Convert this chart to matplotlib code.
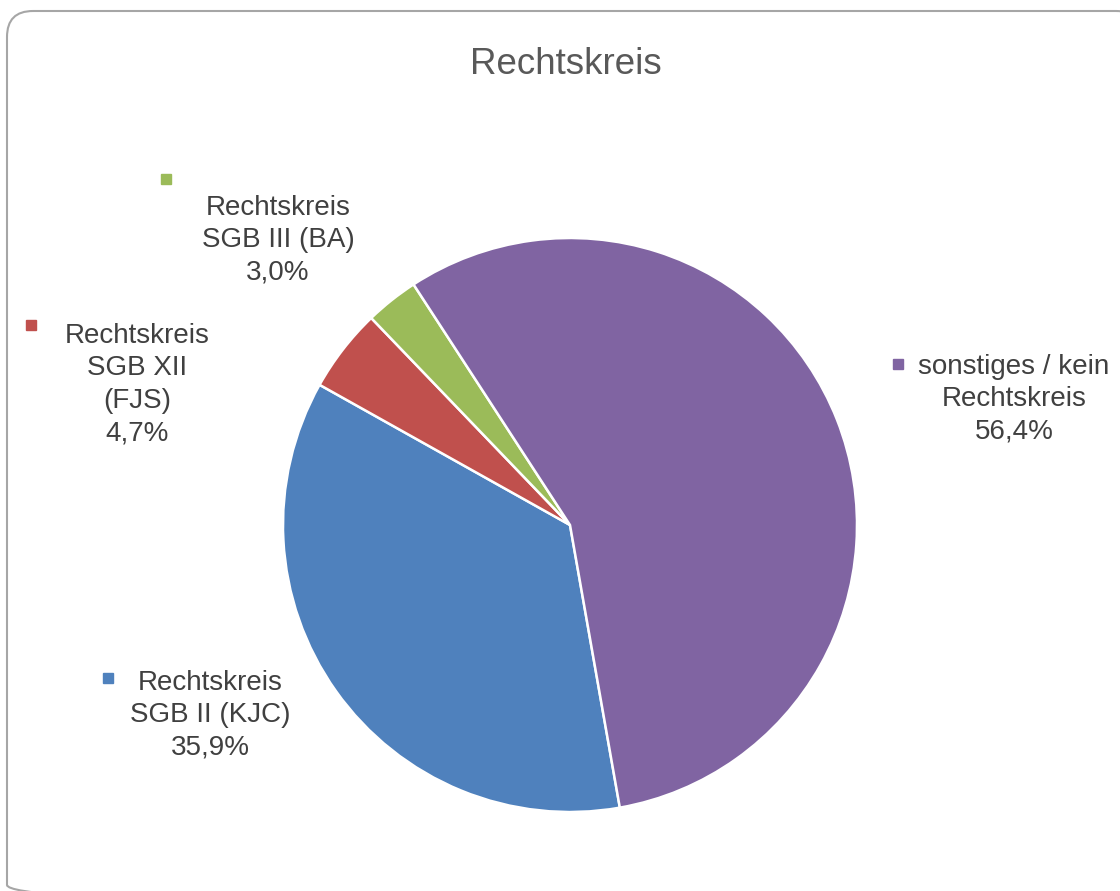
import matplotlib.pyplot as plt
from matplotlib.patches import FancyBboxPatch

plt.rcParams['font.family'] = ['Liberation Sans', 'DejaVu Sans']

# Daten
kategorien = ['Rechtskreis\nSGB II (KJC)', 'Rechtskreis\nSGB XII\n(FJS)',
              'Rechtskreis\nSGB III (BA)', 'sonstiges / kein\nRechtskreis']
anteile = [35.9, 4.7, 3.0, 56.4]
farben = ['#4F81BD', '#C0504D', '#9BBB59', '#8064A2']

# Label-Positionen in Pixeln (x, y von oben): Textmitte der ersten Zeile, Marker
text_pos = [(210, 680), (137, 333), (278, 205), (1014, 364)]
marker_pos = [(108, 678), (31, 325), (166, 179), (898, 364)]

W, H = 1120, 891
fig = plt.figure(figsize=(W / 100, H / 100), dpi=100)

# Hintergrund-Achse in Pixeln für Rahmen, Titel, Labels
bg = fig.add_axes([0, 0, 1, 1])
bg.set_xlim(0, W)
bg.set_ylim(H, 0)
bg.axis('off')

# Rahmen mit runden Ecken (geht rechts/unten über den Rand hinaus)
bg.add_patch(FancyBboxPatch((7, 11), 1135, 900,
                            boxstyle="round,pad=0,rounding_size=26",
                            fill=False, edgecolor='#A6A6A6', linewidth=1.5))

# Kreis: Mitte (570, 525), Radius 287 px
cx, cy, r = 570, 525, 287
ax = fig.add_axes([(cx - r) / W, (H - cy - r) / H, 2 * r / W, 2 * r / H])
ax.pie(anteile, colors=farben, startangle=-80, counterclock=False, radius=1,
       wedgeprops=dict(edgecolor='white', linewidth=1.8))
ax.set_xlim(-1, 1)
ax.set_ylim(-1, 1)
ax.set_aspect('equal')
ax.axis('off')

bg.text(566, 65, 'Rechtskreis', ha='center', va='center',
        fontsize=26.5, color='#595959')

for name, wert, (tx, ty), (mx, my), f in zip(kategorien, anteile, text_pos, marker_pos, farben):
    txt = name + '\n' + f"{wert:.1f}".replace('.', ',') + '%'
    bg.text(tx, ty - 10, txt, ha='center', va='top', fontsize=20,
            color='#404040', linespacing=1.32, multialignment='center')
    bg.add_patch(plt.Rectangle((mx - 5, my - 5), 10, 10, color=f))

fig.savefig('out.png', dpi=100)
